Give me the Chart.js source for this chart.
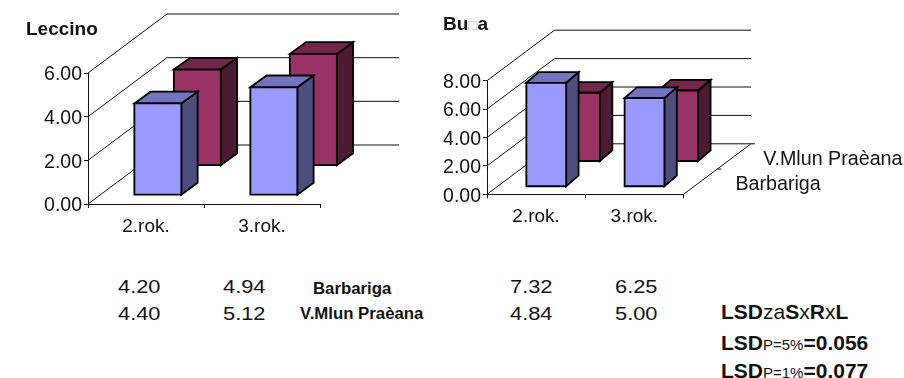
<!DOCTYPE html>
<html><head><meta charset="utf-8">
<script src="https://cdn.jsdelivr.net/npm/chart.js@4"></script>
<style>
html,body{margin:0;padding:0;background:#fff;overflow:hidden}
body{width:904px;height:378px;position:relative;font-family:"Liberation Sans",Arial,sans-serif;color:#111}
canvas{position:absolute;top:0}
.t{position:absolute;white-space:nowrap;line-height:20px;height:20px;margin-top:-10px;font-size:19px;transform-origin:0 50%}
.b{font-weight:bold}
.v{font-size:18.5px;transform:scaleX(1.18)}
.sm{font-size:16.8px}
.lsd{font-size:21px;font-weight:bold}
.za{font-weight:normal}
.p{font-size:15px;font-weight:normal}
.box{font-weight:normal;color:#bbb;font-size:15px}
</style></head><body>
<div style="position:absolute;left:0;top:0;width:430px;height:250px"><canvas id="c1"></canvas></div>
<div style="position:absolute;left:430px;top:0;width:474px;height:250px"><canvas id="c2"></canvas></div>
<div id="notes"></div>
<script>
const categories = ["2.rok.", "3.rok."];
const seriesNames = ["Barbariga", "V.Mlun Praèana"];
const leccinoBarbariga = [4.20, 4.94];
const leccinoMlun = [4.40, 5.12];
const buzaBarbariga = [7.32, 6.25];
const buzaMlun = [4.84, 5.00];
const leccinoTicks = {max: 6, step: 2};
const buzaTicks = {max: 8, step: 2};

const faces = [
  {front: "#9999FF", side: "#4D4D80", top: "#7373BF"},
  {front: "#993366", side: "#4D1A33", top: "#732649"}
];
const rowDepth = [0.15, 0.65], barDepth = 0.2;

const wall3d = {
  id: "wall3d",
  beforeDatasetsDraw(chart, args, o) {
    const {ctx, scales: {x, y}} = chart;
    const L = x.left, R = x.right;
    ctx.save();
    ctx.strokeStyle = "#111"; ctx.lineWidth = 1;
    y.ticks.forEach(t => {
      const py = y.getPixelForValue(t.value);
      ctx.beginPath();
      ctx.moveTo(L, py);
      ctx.lineTo(L + o.dx, py - o.dy);
      ctx.lineTo(R + o.dx, py - o.dy);
      ctx.stroke();
    });
    if (o.depthAxis) {
      const b = y.bottom;
      ctx.beginPath();
      ctx.moveTo(R, b); ctx.lineTo(R + o.dx, b - o.dy);
      [0.5, 1].forEach(d => {
        ctx.moveTo(R + o.dx * d, b - o.dy * d);
        ctx.lineTo(R + o.dx * d + 4, b - o.dy * d);
      });
      ctx.stroke();
      ctx.fillStyle = "#111";
      ctx.font = o.font; ctx.textBaseline = "middle"; ctx.textAlign = "left";
      chart.data.datasets.forEach((ds, i) => {
        const d = rowDepth[i] + barDepth / 2;
        ctx.fillText(ds.label, R + o.dx * d + o.labelGap[i], b - o.dy * d + 3);
      });
    }
    ctx.restore();
  },
  beforeDatasetDraw(chart, args, o) {
    const {ctx} = chart, i = args.index, f = faces[i];
    const ox = o.dx * rowDepth[i], oy = -o.dy * rowDepth[i];
    const tx = o.dx * barDepth * o.kx, ty = -o.dy * barDepth * o.ky;
    ctx.save();
    ctx.strokeStyle = "#000"; ctx.lineWidth = 1.8; ctx.lineJoin = "miter";
    args.meta.data.forEach(el => {
      const l = el.x - el.width / 2 + ox, r = el.x + el.width / 2 + ox;
      const t = el.y + oy, b = el.base + oy;
      const poly = (pts, c) => {
        ctx.beginPath();
        pts.forEach((p, k) => k ? ctx.lineTo(p[0], p[1]) : ctx.moveTo(p[0], p[1]));
        ctx.closePath(); ctx.fillStyle = c; ctx.fill(); ctx.stroke();
      };
      poly([[r, t], [r + tx, t + ty], [r + tx, b + ty], [r, b]], f.side);
      poly([[l, t], [l + tx, t + ty], [r + tx, t + ty], [r, t]], f.top);
      poly([[l, t], [r, t], [r, b], [l, b]], f.front);
    });
    ctx.restore();
    return false;
  }
};

function make3d(id, a, b, tk, box, depth, size) {
  new Chart(document.getElementById(id), {
    type: "bar",
    plugins: [wall3d],
    data: {
      labels: categories,
      datasets: [
        {label: seriesNames[0], data: a, backgroundColor: faces[0].front, grouped: false, barPercentage: 0.405, categoryPercentage: 1},
        {label: seriesNames[1], data: b, backgroundColor: faces[1].front, grouped: false, barPercentage: 0.405, categoryPercentage: 1}
      ]
    },
    options: {
      responsive: false, animation: false, events: [],
      layout: {padding: {left: 0, top: box.top, right: size[0] - box.right, bottom: 0}},
      plugins: {legend: {display: false}, title: {display: false}, tooltip: {enabled: false}, wall3d: depth},
      scales: {
        x: {
          afterFit(s) { s.height = size[1] - box.bottom; },
          grid: {drawOnChartArea: false, tickLength: 4, color: "#111"},
          border: {color: "#111"},
          ticks: {color: "#111", font: {family: "Liberation Sans", size: 19}, padding: 7, maxRotation: 0}
        },
        y: {
          min: 0, max: tk.max,
          afterFit(s) { s.width = box.left; },
          grid: {drawOnChartArea: false, tickLength: 4, color: "#111"},
          border: {color: "#111"},
          ticks: {stepSize: tk.step, color: "#111", font: {family: "Liberation Sans", size: 19.5}, padding: 2, labelOffset: 2, callback: v => v.toFixed(2)}
        }
      }
    }
  });
}
const c1 = document.getElementById("c1"), c2 = document.getElementById("c2");
c1.width = 430; c1.height = 250; c2.width = 474; c2.height = 250;
make3d("c1", leccinoBarbariga, leccinoMlun, leccinoTicks, {left: 88, right: 320, top: 73, bottom: 204}, {dx: 79, dy: 59, kx: 1.03, ky: 1}, [430, 250]);
make3d("c2", buzaBarbariga, buzaMlun, buzaTicks, {left: 57, right: 253.5, top: 80.7, bottom: 194.3}, {dx: 67.5, dy: 50.5, kx: 0.92, ky: 1.05, depthAxis: true, font: "19.7px 'Liberation Sans'", labelGap: [35, 29]}, [474, 250]);

const f2 = v => v.toFixed(2);
const notes = [
  ["Leccino", 26, 29, "b"], ["Bu<span class='box'>□</span>a", 443, 24, "b"],
  [f2(leccinoBarbariga[0]), 118, 287, "v"], [f2(leccinoBarbariga[1]), 223, 287, "v"],
  [f2(leccinoMlun[0]), 118, 314, "v"], [f2(leccinoMlun[1]), 223, 314, "v"],
  [seriesNames[0], 313, 289, "b sm"], [seriesNames[1], 300, 314, "b sm"],
  [f2(buzaBarbariga[0]), 510, 287, "v"], [f2(buzaBarbariga[1]), 615, 287, "v"],
  [f2(buzaMlun[0]), 510, 314, "v"], [f2(buzaMlun[1]), 615, 314, "v"],
  ["LSD<span class='za'>za</span>S<span class='za'>x</span>R<span class='za'>x</span>L", 721, 312, "lsd"],
  ["LSD<span class='p'>P=5%</span>=0.056", 721, 343, "lsd"],
  ["LSD<span class='p'>P=1%</span>=0.077", 721, 371, "lsd"]
];
document.getElementById("notes").innerHTML = notes.map(n =>
  `<div class="t ${n[3] || ""}" style="left:${n[1]}px;top:${n[2]}px">${n[0]}</div>`).join("");
</script>
</body></html>
